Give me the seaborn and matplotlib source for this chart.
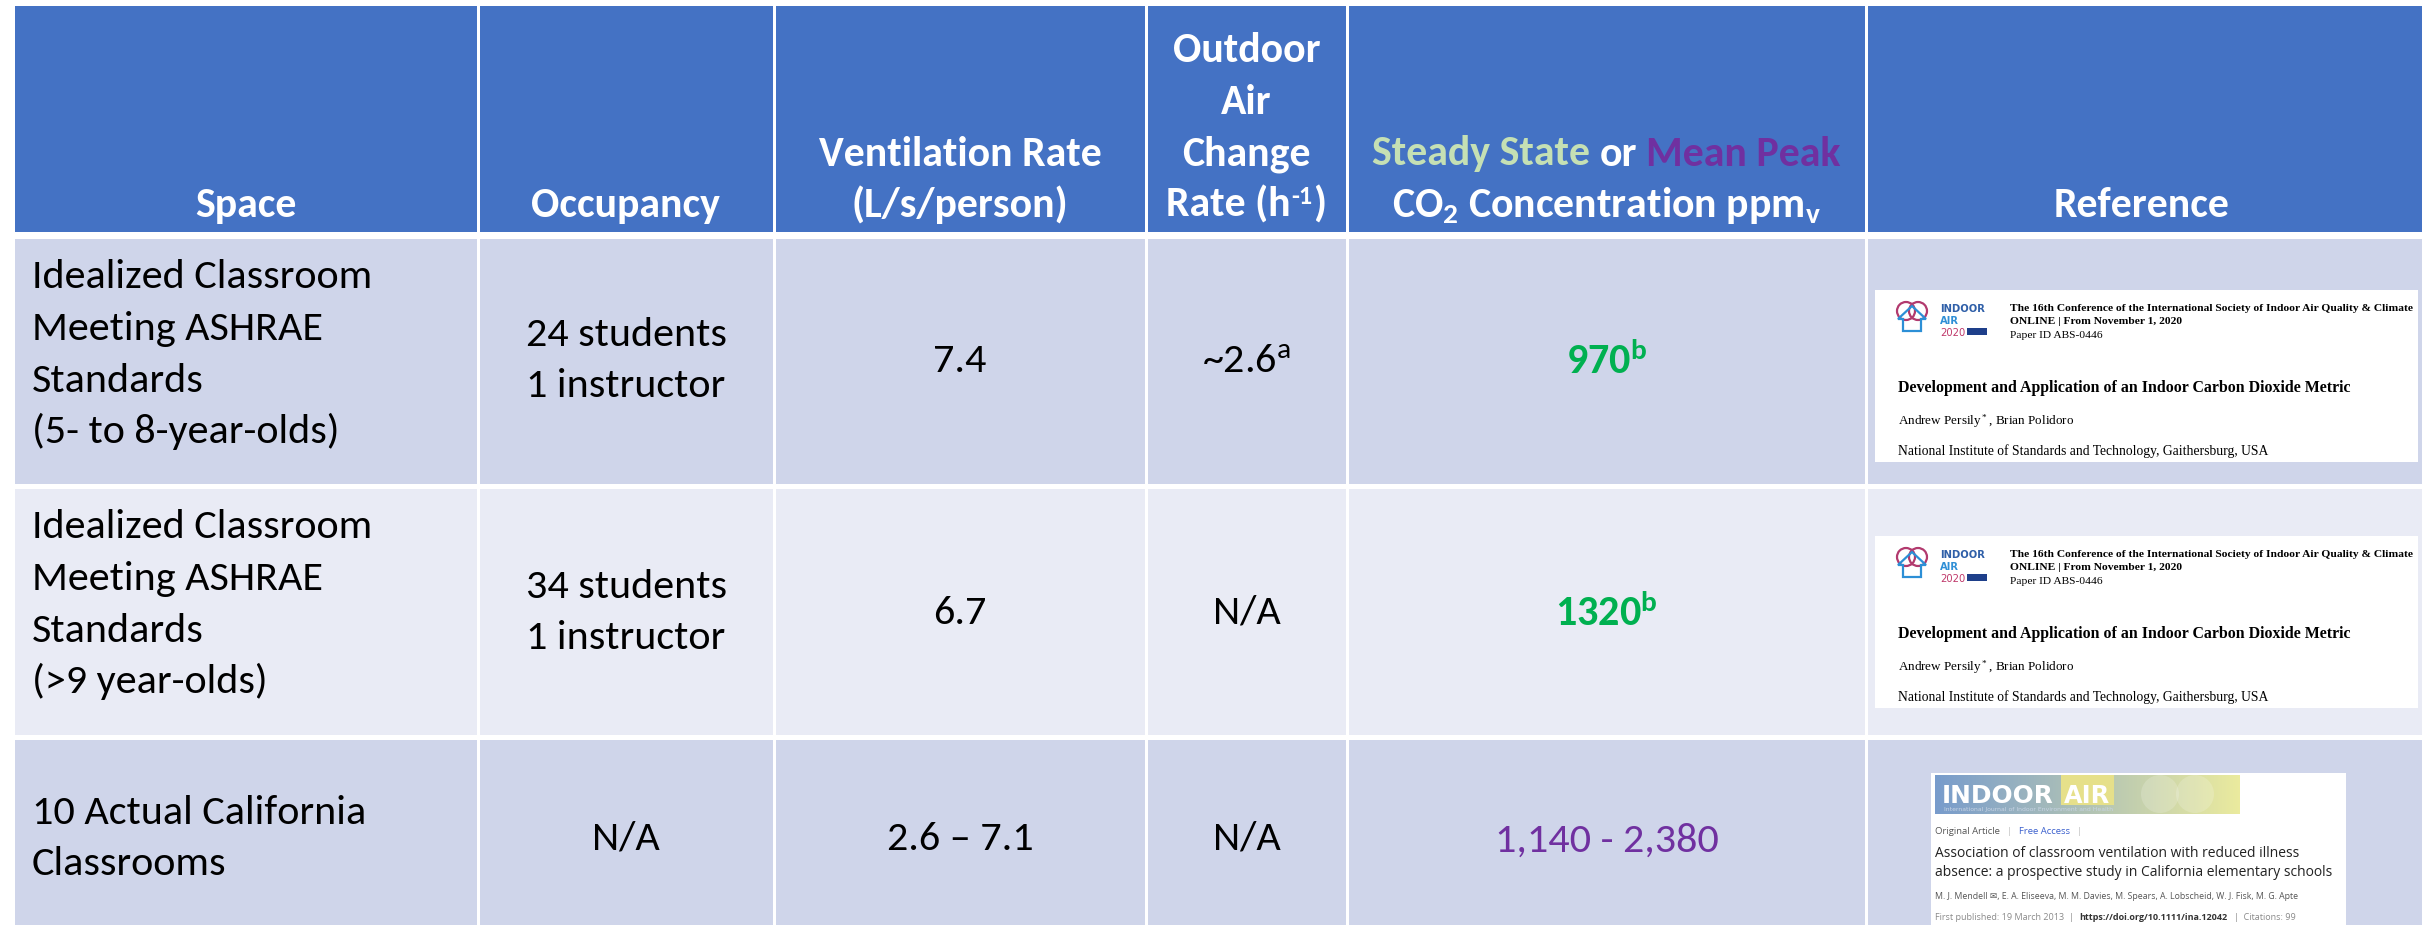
import matplotlib
matplotlib.use("Agg")
import numpy as np
import matplotlib.pyplot as plt
from matplotlib import font_manager as fm
from matplotlib.patches import Rectangle, Circle, Polygon
import seaborn as sns

# ---- table content ----
headers = ["Space", "Occupancy", "Ventilation Rate\n(L/s/person)",
           "Outdoor\nAir\nChange\nRate (h", None, "Reference"]
co2_header_top = [("Steady State", "#C5E0B4"), ("or", "white"), ("Mean Peak", "#7030A0")]
co2_header_bottom = "CO$_2$ Concentration ppm$_v$"

spaces = ["Idealized Classroom\nMeeting ASHRAE\nStandards\n(5- to 8-year-olds)",
          "Idealized Classroom\nMeeting ASHRAE\nStandards\n(>9 year-olds)",
          "10 Actual California\nClassrooms"]
occupancy = ["24 students\n1 instructor", "34 students\n1 instructor", "N/A"]
vent_rate = ["7.4", "6.7", "2.6 \u2013 7.1"]
air_change = ["~2.6$^a$", "N/A", "N/A"]
co2 = ["970$^b$", "1320$^b$", "1,140 - 2,380"]
co2_colors = ["#00B050", "#00B050", "#7030A0"]
co2_weight = ["bold", "bold", "normal"]

# reference snippets (rows 1-2: conference paper, row 3: journal article)
conf_lines = ["The 16th Conference of the International Society of Indoor Air Quality & Climate",
              "ONLINE | From November 1, 2020", "Paper ID ABS-0446"]
conf_title = "Development and Application of an Indoor Carbon Dioxide Metric"
conf_authors = "Andrew Persily$^*$, Brian Polidoro"
conf_affil = "National Institute of Standards and Technology, Gaithersburg, USA"
ina_subtitle = "International Journal of Indoor Environment and Health"
ina_title = ["Association of classroom ventilation with reduced illness",
             "absence: a prospective study in California elementary schools"]
ina_authors = "M. J. Mendell \u2709, E. A. Eliseeva, M. M. Davies, M. Spears, A. Lobscheid, W. J. Fisk, M. G. Apte"
ina_pub = [("First published: 19 March 2013  |", "#8a8a8a", "normal"),
           ("https://doi.org/10.1111/ina.12042", "#333333", "bold"),
           ("|  Citations: 99", "#8a8a8a", "normal")]


def pick(names):
    for n in names:
        try:
            fm.findfont(fm.FontProperties(family=n), fallback_to_default=False)
            return n
        except Exception:
            pass
    return "DejaVu Sans"


sns.set_theme(style="white")
SANS = pick(["Carlito", "Lato", "Roboto"])
SERIF = pick(["Liberation Serif", "DejaVu Serif"])
WEB = pick(["Open Sans", "Noto Sans", "DejaVu Sans"])
plt.rcParams["font.family"] = [SANS, "DejaVu Sans"]
plt.rcParams["mathtext.fontset"] = "custom"
plt.rcParams["mathtext.rm"] = SANS
plt.rcParams["mathtext.default"] = "regular"

W, H = 2422, 925
fig = plt.figure(figsize=(W / 100, H / 100), dpi=100)
ax = fig.add_axes([0, 0, 1, 1])
ax.set_xlim(0, W)
ax.set_ylim(H, 0)
ax.axis("off")
renderer = fig.canvas.get_renderer()

col_edges = [13, 478, 774, 1146, 1347, 1866, 2430]
row_edges = [(6, 232), (239, 484), (489, 735), (740, 940)]
fills = ["#4472C4", "#CFD5EA", "#E9EBF5", "#CFD5EA"]

for (y0, y1), fc in zip(row_edges, fills):
    for i in range(len(col_edges) - 1):
        x0, x1 = col_edges[i] + 1.5, col_edges[i + 1] - 1.5
        ax.add_patch(Rectangle((x0, y0), x1 - x0, y1 - y0, facecolor=fc, edgecolor="none"))


def fit(t, width):
    bb = t.get_window_extent(renderer)
    t.set_fontsize(t.get_fontsize() * width / bb.width)
    return t


def width_of(t):
    return t.get_window_extent(renderer).width


# calibrate font sizes from measured text widths
probe = ax.text(0, -100, "Idealized Classroom", fontsize=30)
BODY = fit(probe, 340).get_fontsize()
probe.remove()
probe = ax.text(0, -100, "Ventilation Rate", fontsize=30, fontweight="bold")
HEAD = fit(probe, 283).get_fontsize()
probe.remove()

LS = 51.5  # line pitch in px
CAP = 11.5  # half cap height in px


def lines_at(x, first_center, text, ha="center", **kw):
    for k, line in enumerate(text.split("\n")):
        ax.text(x, first_center + k * LS + CAP, line, ha=ha, va="baseline", **kw)


def runs(x, y, parts, gap, ha="center", **kw):
    texts = []
    for s, c, w in parts:
        texts.append(ax.text(0, y, s, color=c, fontweight=w, va="baseline", **kw))
    widths = [width_of(t) for t in texts]
    total = sum(widths) + gap * (len(texts) - 1)
    start = x - total / 2 if ha == "center" else x
    for t, wd in zip(texts, widths):
        t.set_x(start)
        start += wd + gap
    return texts


# ---- header row ----
mids = [(col_edges[i] + col_edges[i + 1]) / 2 for i in range(len(col_edges) - 1)]
mids[-1] = 2142
last_base = 217
for i, h in enumerate(headers):
    if h is None or i == 3:
        continue
    parts = h.split("\n")
    for k, line in enumerate(parts):
        y = last_base - (len(parts) - 1 - k) * LS
        ax.text(mids[i], y, line, ha="center", va="baseline", color="white",
                fontsize=HEAD, fontweight="bold")

# air change header: last line carries a raised "-1"
ach_lines = headers[3].split("\n")
for k, line in enumerate(ach_lines[:-1]):
    ax.text(mids[3], last_base - (len(ach_lines) - 1 - k) * LS, line, ha="center",
            va="baseline", color="white", fontsize=HEAD, fontweight="bold")
pieces = [ax.text(0, last_base, ach_lines[-1], color="white", fontsize=HEAD,
                  fontweight="bold", va="baseline"),
          ax.text(0, last_base - 13, "-1", color="white", fontsize=HEAD * 0.62,
                  fontweight="bold", va="baseline"),
          ax.text(0, last_base, ")", color="white", fontsize=HEAD,
                  fontweight="bold", va="baseline")]
pw = [width_of(p) for p in pieces]
xs = mids[3] - (sum(pw) + 2) / 2
for p, wd in zip(pieces, pw):
    p.set_x(xs)
    xs += wd + 1

runs(mids[4], last_base - LS, [(s, c, "bold") for s, c in co2_header_top],
     gap=HEAD * 0.3, fontsize=HEAD)
ax.text(mids[4], last_base, co2_header_bottom, ha="center", va="baseline",
        color="white", fontsize=HEAD, fontweight="bold")

# ---- body rows ----
row_mid = [362, 614, 840]
for r in range(3):
    top = row_edges[r + 1][0]
    n = len(spaces[r].split("\n"))
    first = top + 38 if n > 2 else top + 72
    lines_at(32, first, spaces[r], ha="left", fontsize=BODY, color="black")
    for col, vals in [(1, occupancy), (2, vent_rate), (3, air_change)]:
        n = len(vals[r].split("\n"))
        lines_at(mids[col], row_mid[r] - (n - 1) * LS / 2 - 2, vals[r],
                 fontsize=BODY, color="black")
    lines_at(mids[4], row_mid[r], co2[r], fontsize=BODY, color=co2_colors[r],
             fontweight=co2_weight[r])


# ---- reference snippets ----
def conf_box(top):
    x0, x1, bottom = 1875, 2418, top + 172
    ax.add_patch(Rectangle((x0, top), x1 - x0, bottom - top, facecolor="white",
                           edgecolor="none"))
    # logo
    cx, cy = 1912, top + 25
    ax.add_patch(Circle((cx - 6, cy - 4), 9, fill=False, ec="#B23A6E", lw=1.6))
    ax.add_patch(Circle((cx + 6, cy - 4), 9, fill=False, ec="#B23A6E", lw=1.6))
    ax.add_patch(Polygon([[cx - 9, cy + 16], [cx - 9, cy + 4], [cx - 14, cy + 4], [cx, cy - 9],
                          [cx + 14, cy + 4], [cx + 9, cy + 4], [cx + 9, cy + 16]],
                         closed=True, fill=False, ec="#2C8FD6", lw=1.6))
    ax.text(1940, top + 22, "INDOOR", fontsize=7.2, fontweight="bold", color="#2F5FA8",
            family="DejaVu Sans", va="baseline")
    ax.text(1940, top + 34, "AIR", fontsize=7.2, fontweight="bold", color="#2F8FD6",
            family="DejaVu Sans", va="baseline")
    ax.text(1940, top + 46, "2020", fontsize=7.2, color="#C0396B",
            family="DejaVu Sans", va="baseline")
    ax.add_patch(Rectangle((1967, top + 38), 20, 7, facecolor="#1E3F8A", edgecolor="none"))
    for k, line in enumerate(conf_lines):
        t = ax.text(2010, top + 21 + k * 13.5, line, family=SERIF, fontsize=8,
                    fontweight="normal" if k == 2 else "bold", va="baseline", color="black")
        if k == 0:
            fit(t, 398)
            fs = t.get_fontsize()
        else:
            t.set_fontsize(fs)
    fit(ax.text(1898, top + 102, conf_title, family=SERIF, fontsize=11, fontweight="bold",
                va="baseline", color="black"), 451)
    fit(ax.text(1898, top + 135, conf_authors, family=SERIF, fontsize=9, va="baseline",
                color="black"), 177)
    fit(ax.text(1898, top + 165, conf_affil, family=SERIF, fontsize=9, va="baseline",
                color="black"), 370)


conf_box(290)
conf_box(536)

# journal article box
bx0, bx1, btop = 1931, 2346, 773
ax.add_patch(Rectangle((bx0, btop), bx1 - bx0, H - btop + 10, facecolor="white", edgecolor="none"))
grad = np.linspace(0, 1, 256)[None, :, None]
c0 = np.array([0.47, 0.61, 0.80])
c1 = np.array([0.92, 0.92, 0.62])
ax.imshow(c0 * (1 - grad) + c1 * grad, extent=(1935, 2240, 814, 775), aspect="auto", zorder=2)
for cxx in (2160, 2195):
    ax.add_patch(Circle((cxx, 794), 19, facecolor="white", alpha=0.18, edgecolor="none", zorder=3))
ax.add_patch(Rectangle((2061, 775), 53, 30, facecolor="#E6E08A", edgecolor="none", zorder=3))
fit(ax.text(1942, 803, "INDOOR", fontsize=22, fontweight="bold", color="white",
            family="DejaVu Sans", va="baseline", zorder=4), 112)
fit(ax.text(2064, 803, "AIR", fontsize=22, fontweight="bold", color="white",
            family="DejaVu Sans", va="baseline", zorder=4), 46)
fit(ax.text(1944, 811, ina_subtitle, fontsize=5, color="#C8D4E4", family="DejaVu Sans",
            va="baseline", zorder=4), 170)
runs(1935, 834, [("Original Article", "#555555", "normal"), ("|", "#BBBBBB", "normal"),
                 ("Free Access", "#3A5FCD", "normal"), ("|", "#BBBBBB", "normal")],
     gap=7, ha="left", fontsize=6.8, family=WEB)
for k, line in enumerate(ina_title):
    t = ax.text(1935, 857 + k * 19, line, fontsize=10, family=WEB, color="#222222", va="baseline")
    if k == 1:
        fit(t, 398)
        ax.texts[-2].set_fontsize(t.get_fontsize())
fit(ax.text(1935, 899, ina_authors, fontsize=7, family=[WEB, "DejaVu Sans"], color="#555555",
            va="baseline"), 368)
runs(1935, 920, ina_pub, gap=6, ha="left", fontsize=6.5, family=WEB)

fig.savefig("out.png", dpi=100)
